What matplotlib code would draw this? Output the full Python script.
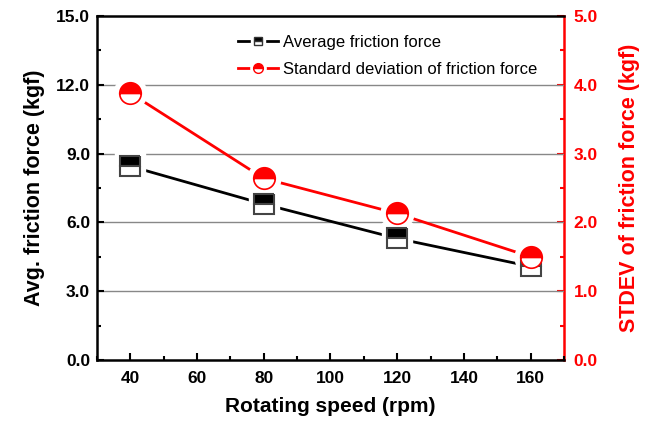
import matplotlib
matplotlib.use("Agg")
import matplotlib.pyplot as plt
from matplotlib.ticker import MultipleLocator, FormatStrFormatter
from matplotlib.lines import Line2D
from matplotlib.legend_handler import HandlerTuple

speed = [40, 80, 120, 160]
avg_force = [8.45, 6.8, 5.3, 4.08]
std_force = [3.88, 2.64, 2.13, 1.50]

plt.rcParams['font.family'] = ['Liberation Sans', 'DejaVu Sans']

fig = plt.figure(figsize=(6.53, 4.23), dpi=100)
ax = fig.add_axes([0.1485, 0.149, 0.7152, 0.813])
ax2 = ax.twinx()
ax2.set_zorder(ax.get_zorder() - 1)
ax.patch.set_visible(False)

ax.set_xlim(30, 170)
ax.set_ylim(0, 15)
ax2.set_ylim(0, 5)
ax.set_autoscale_on(False)

for v in [3, 6, 9, 12]:
    ax.axhline(v, color='#888888', lw=1.0, zorder=0)

ms_sq = 14
ms_c = 15.5
tr2 = ax2.transData
# lines
ax.plot(speed, avg_force, color='black', lw=2, zorder=2)
ax.plot(speed, std_force, color='red', lw=2, zorder=2, transform=tr2)
# white halos to create gaps
ax.plot(speed, avg_force, ls='none', marker='s', ms=ms_sq + 8, mfc='white', mec='white', zorder=3)
ax.plot(speed, std_force, ls='none', marker='o', ms=ms_c + 8, mfc='white', mec='white', zorder=3,
        transform=tr2)
# markers
ax.plot(speed, avg_force, ls='none', marker='s', ms=ms_sq, fillstyle='top', mfc='black',
        markerfacecoloralt='white', mec='#444444', mew=1.5, zorder=4)
ax.plot(speed, std_force, ls='none', marker='o', ms=ms_c, fillstyle='top', mfc='red',
        markerfacecoloralt='white', mec='red', mew=1.2, zorder=5, transform=tr2)

# legend handles
l1 = Line2D([], [], color='black', lw=2)
w1 = Line2D([], [], ls='none', marker='s', ms=10, mfc='white', mec='white')
m1 = Line2D([], [], ls='none', marker='s', ms=6, fillstyle='top', mfc='black',
            markerfacecoloralt='white', mec='#333333', mew=1)
l2 = Line2D([], [], color='red', lw=2)
w2 = Line2D([], [], ls='none', marker='o', ms=11, mfc='white', mec='white')
m2 = Line2D([], [], ls='none', marker='o', ms=7, fillstyle='top', mfc='red',
            markerfacecoloralt='white', mec='red', mew=1)
ax.legend([(l1, w1, m1), (l2, w2, m2)],
          ['Average friction force', 'Standard deviation of friction force'],
          handler_map={tuple: HandlerTuple(ndivide=1)},
          loc='upper left', bbox_to_anchor=(0.27, 0.99), frameon=False, fontsize=12,
          handlelength=2.4, labelspacing=0.75, handletextpad=0.3)

ax.xaxis.set_major_locator(MultipleLocator(20))
ax.xaxis.set_minor_locator(MultipleLocator(10))
ax.yaxis.set_major_locator(MultipleLocator(3))
ax.yaxis.set_minor_locator(MultipleLocator(1.5))
ax.yaxis.set_major_formatter(FormatStrFormatter('%.1f'))
ax2.yaxis.set_major_locator(MultipleLocator(1))
ax2.yaxis.set_minor_locator(MultipleLocator(0.5))
ax2.yaxis.set_major_formatter(FormatStrFormatter('%.1f'))

ax.tick_params(axis='both', which='major', direction='in', length=5, width=1.5, labelsize=12.5)
ax.tick_params(axis='both', which='minor', direction='in', length=3, width=1.5)
ax.tick_params(axis='x', which='major', pad=8)
ax.tick_params(axis='y', which='major', pad=5)
ax.tick_params(axis='y', which='both', right=False)
ax.tick_params(axis='x', which='both', top=False)
ax2.tick_params(axis='y', which='major', direction='in', length=5, width=1.5, colors='red',
                labelsize=12.5, pad=7)
ax2.tick_params(axis='y', which='minor', direction='in', length=3, width=1.5, colors='red')

for lab in ax.get_xticklabels() + ax.get_yticklabels() + ax2.get_yticklabels():
    lab.set_fontweight('bold')

for sp in ['left', 'bottom', 'top']:
    ax.spines[sp].set_linewidth(1.8)
    ax.spines[sp].set_color('black')
ax.spines['right'].set_visible(False)
ax2.spines['right'].set_color('red')
ax2.spines['right'].set_linewidth(1.8)
for sp in ['left', 'bottom', 'top']:
    ax2.spines[sp].set_visible(False)

ax.set_xlabel('Rotating speed (rpm)', fontsize=15, fontweight='bold', labelpad=8)
ax.set_ylabel('Avg. friction force (kgf)', fontsize=15.5, fontweight='bold', labelpad=8)
ax2.set_ylabel('STDEV of friction force (kgf)', fontsize=15.5, fontweight='bold', color='red',
               labelpad=15)

fig.savefig('out.png', dpi=100)
